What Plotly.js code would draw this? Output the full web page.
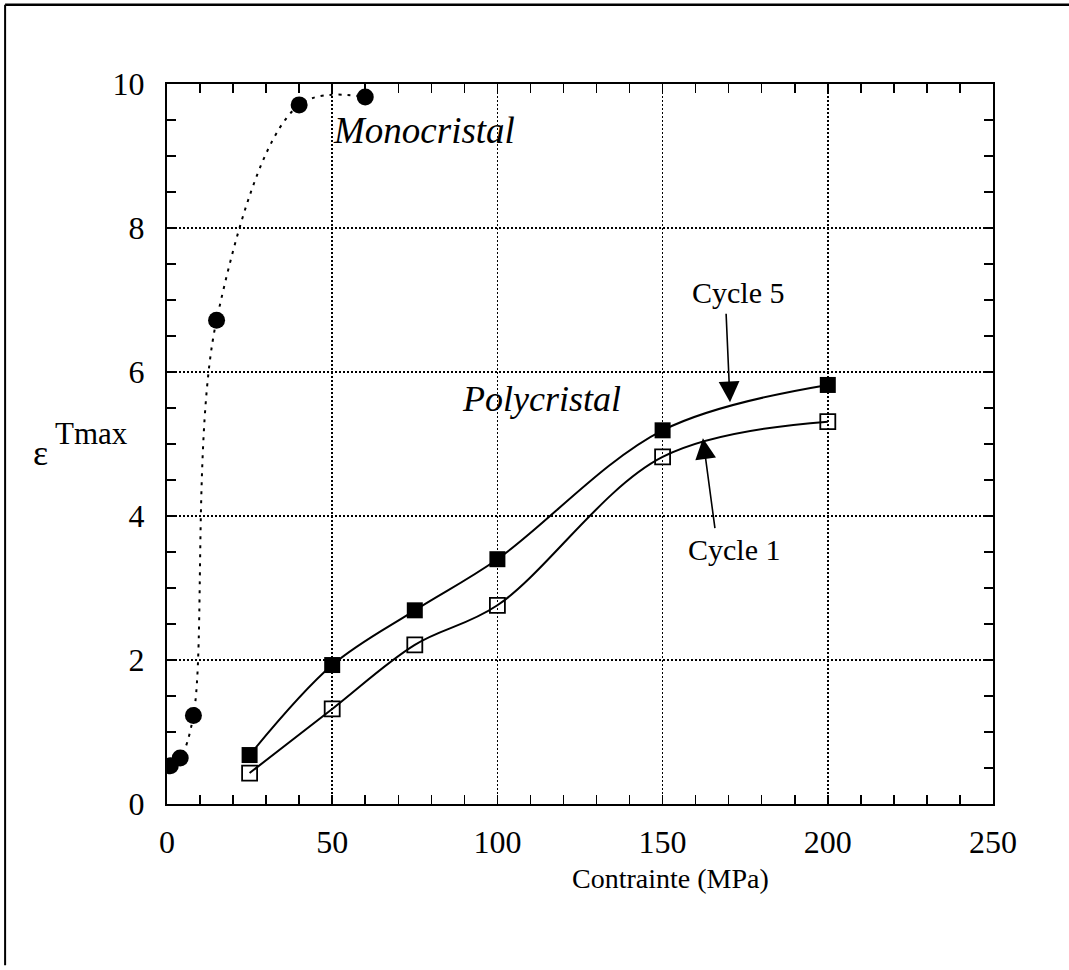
<!DOCTYPE html>
<html>
<head>
<meta charset="utf-8">
<script src="https://cdn.plot.ly/plotly-3.0.1.min.js"></script>
<style>
  html, body { margin: 0; padding: 0; background: #fff; }
  #chart { width: 1069px; height: 970px; }
</style>
</head>
<body>
<div id="chart"></div>
<script>
// ---- data ----
const monoX = [1, 4, 8, 15, 40, 60];
const monoY = [0.53, 0.64, 1.23, 6.72, 9.71, 9.82];

const polyX = [25, 50, 75, 100, 150, 200];
const cycle5Y = [0.68, 1.93, 2.69, 3.40, 5.19, 5.82];
const cycle1Y = [0.43, 1.32, 2.21, 2.76, 4.82, 5.31];

const xTickVals = [0, 50, 100, 150, 200, 250];
const yTickVals = [0, 2, 4, 6, 8, 10];

const FONT = '"Liberation Serif", "Times New Roman", Times, serif';

const traces = [
  {
    name: 'Monocristal', x: monoX, y: monoY, type: 'scatter', mode: 'lines+markers',
    line: { color: '#000', width: 2, dash: '3px,6px', shape: 'spline', smoothing: 1 },
    marker: { symbol: 'circle', size: 17, color: '#000' }
  },
  {
    name: 'Cycle 5', x: polyX, y: cycle5Y, type: 'scatter', mode: 'lines+markers',
    line: { color: '#000', width: 2, shape: 'spline', smoothing: 1 },
    marker: { symbol: 'square', size: 16, color: '#000' }
  },
  {
    name: 'Cycle 1', x: polyX, y: cycle1Y, type: 'scatter', mode: 'lines+markers',
    line: { color: '#000', width: 2, shape: 'spline', smoothing: 1 },
    marker: { symbol: 'square-open', size: 15, color: '#000', line: { width: 1.8, color: '#000' } }
  }
];

const axisCommon = {
  showline: true, linecolor: '#000', linewidth: 2, mirror: 'ticks',
  ticks: 'inside', ticklen: 9, tickwidth: 1.5, tickcolor: '#000',
  showgrid: true, gridcolor: '#000', gridwidth: 1.5, griddash: '2px,2px',
  zeroline: false, tickfont: { family: FONT, size: 32, color: '#000' }
};

const layout = {
  width: 1069, height: 970,
  margin: { l: 167, r: 76, t: 84, b: 166 },
  paper_bgcolor: '#fff', plot_bgcolor: '#fff',
  showlegend: false, hovermode: false,
  font: { family: FONT, color: '#000' },
  xaxis: Object.assign({}, axisCommon, {
    range: [0, 250], tickvals: xTickVals, ticklabelstandoff: 9,
    minor: { dtick: 10, ticks: 'inside', ticklen: 9, tickwidth: 1.5, tickcolor: '#000', showgrid: false }
  }),
  yaxis: Object.assign({}, axisCommon, {
    range: [0, 10], tickvals: yTickVals, ticklabelstandoff: 14,
    minor: { dtick: 0.5, ticks: 'inside', ticklen: 9, tickwidth: 1.5, tickcolor: '#000', showgrid: false }
  }),
  annotations: [
    { xref: 'paper', yref: 'paper', x: 0.609, y: -0.103, text: 'Contrainte (MPa)', showarrow: false,
      xanchor: 'center', yanchor: 'middle', font: { family: FONT, size: 28, color: '#000' } },
    { xref: 'paper', yref: 'paper', x: -0.153, y: 0.488, text: 'ε', showarrow: false,
      xanchor: 'center', yanchor: 'middle', font: { family: FONT, size: 36, color: '#000' } },
    { xref: 'paper', yref: 'paper', x: -0.092, y: 0.514, text: 'Tmax', showarrow: false,
      xanchor: 'center', yanchor: 'middle', font: { family: FONT, size: 31, color: '#000' } },
    { xref: 'x', yref: 'y', x: 77.8, y: 9.36, text: '<i>Monocristal</i>', showarrow: false,
      xanchor: 'center', yanchor: 'middle', font: { family: FONT, size: 37, color: '#000' } },
    { xref: 'x', yref: 'y', x: 113.2, y: 5.62, text: '<i>Polycristal</i>', showarrow: false,
      xanchor: 'center', yanchor: 'middle', font: { family: FONT, size: 36, color: '#000' } },
    { xref: 'x', yref: 'y', x: 172.8, y: 7.11, text: 'Cycle 5', showarrow: false,
      xanchor: 'center', yanchor: 'middle', font: { family: FONT, size: 30, color: '#000' } },
    { xref: 'x', yref: 'y', x: 171.6, y: 3.53, text: 'Cycle 1', showarrow: false,
      xanchor: 'center', yanchor: 'middle', font: { family: FONT, size: 30, color: '#000' } },
    { xref: 'x', yref: 'y', axref: 'x', ayref: 'y', x: 170.4, y: 5.58, ax: 169.2, ay: 6.83, text: '',
      showarrow: true, arrowhead: 2, arrowsize: 2.6, arrowwidth: 1.6, arrowcolor: '#000' },
    { xref: 'x', yref: 'y', axref: 'x', ayref: 'y', x: 162.2, y: 5.08, ax: 165.9, ay: 3.81, text: '',
      showarrow: true, arrowhead: 2, arrowsize: 2.6, arrowwidth: 1.6, arrowcolor: '#000' }
  ],
  shapes: [
    { type: 'line', xref: 'paper', yref: 'paper', x0: -0.196, x1: 1.095, y0: 1.11, y1: 1.11,
      line: { color: '#000', width: 2.5 } },
    { type: 'line', xref: 'paper', yref: 'paper', x0: -0.196, x1: -0.196, y0: 1.11, y1: -0.224,
      line: { color: '#000', width: 2 } }
  ]
};

Plotly.newPlot('chart', traces, layout, { staticPlot: true, displayModeBar: false });
</script>
</body>
</html>
